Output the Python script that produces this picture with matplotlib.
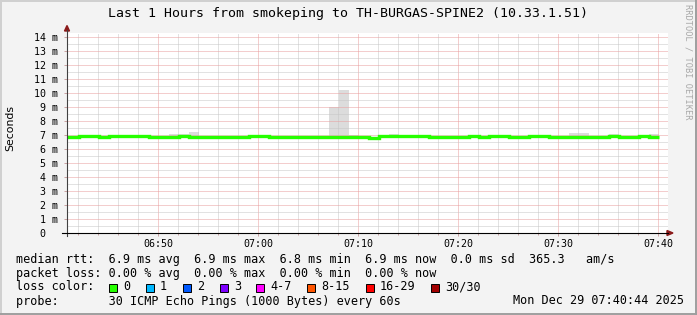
import numpy as np
import matplotlib
matplotlib.use('Agg')
import matplotlib.pyplot as plt
from matplotlib.patches import Rectangle, Polygon
from matplotlib.lines import Line2D
from matplotlib.ticker import FixedLocator, MultipleLocator

# ── Data ──────────────────────────────────────────────────────────────────
# one probe round per minute, first round ends 06:40:06
t_first = 0.1                      # minutes after 06:40
median_ms = [6.85, 6.85, 6.92, 6.92, 6.85, 6.92, 6.92, 6.92, 6.92, 6.85,
             6.85, 6.85, 6.92, 6.85, 6.85, 6.85, 6.85, 6.85, 6.85, 6.92,
             6.92, 6.85, 6.85, 6.85, 6.85, 6.85, 6.85, 6.88, 6.88, 6.88,
             6.85, 6.80, 6.92, 6.92, 6.92, 6.92, 6.92, 6.85, 6.85, 6.85,
             6.85, 6.92, 6.85, 6.92, 6.92, 6.85, 6.85, 6.92, 6.92, 6.85,
             6.88, 6.85, 6.85, 6.88, 6.88, 6.92, 6.85, 6.85, 6.92, 6.85]
smoke_lo = [6.79, 6.79, 6.80, 6.80, 6.79, 6.80, 6.80, 6.80, 6.80, 6.79,
            6.79, 6.79, 6.86, 6.79, 6.79, 6.79, 6.79, 6.79, 6.79, 6.86,
            6.86, 6.79, 6.79, 6.79, 6.79, 6.79, 6.79, 6.74, 6.74, 6.74,
            6.79, 6.74, 6.86, 6.86, 6.86, 6.86, 6.86, 6.79, 6.79, 6.79,
            6.79, 6.86, 6.79, 6.86, 6.86, 6.79, 6.79, 6.86, 6.86, 6.79,
            6.82, 6.79, 6.79, 6.82, 6.82, 6.86, 6.79, 6.79, 6.86, 6.79]
smoke_hi = [6.90, 6.90, 6.97, 6.97, 6.90, 6.97, 6.97, 6.97, 6.97, 6.90,
            6.90, 7.10, 7.10, 7.20, 6.90, 6.90, 6.90, 6.90, 6.90, 6.97,
            6.97, 6.90, 6.90, 6.90, 6.90, 6.90, 6.90, 9.00, 10.20, 7.00,
            6.90, 6.85, 6.97, 7.07, 6.97, 6.97, 6.97, 6.90, 6.90, 6.90,
            6.90, 6.97, 6.90, 6.97, 6.97, 6.90, 6.90, 6.97, 6.97, 6.90,
            6.93, 7.15, 7.15, 6.93, 6.93, 7.08, 6.90, 6.90, 6.97, 7.07]

x_ticks = [10, 20, 30, 40, 50, 60]
x_labels = ['06:50', '07:00', '07:10', '07:20', '07:30', '07:40']
y_ticks = list(range(15))
y_labels = ['0  '] + [f'{v} m' for v in range(1, 15)]

loss_labels = ['0', '1', '2', '3', '4-7', '8-15', '16-29', '30/30']
loss_colors = ['#26ff00', '#00b8ff', '#0059ff', '#7e00ff',
               '#ff00ff', '#ff5500', '#ff0000', '#a10000']

title = 'Last 1 Hours from smokeping to TH-BURGAS-SPINE2 (10.33.1.51)'
legend_rows = [
    'median rtt:  6.9 ms avg  6.9 ms max  6.8 ms min  6.9 ms now  0.0 ms sd  365.3   am/s',
    'packet loss: 0.00 % avg  0.00 % max  0.00 % min  0.00 % now',
    'loss color:',
    'probe:       30 ICMP Echo Pings (1000 Bytes) every 60s',
]
stamp = 'Mon Dec 29 07:40:44 2025'

# ── Figure (pixel layout like rrdtool) ────────────────────────────────────
W, H = 697, 315
MONO = 'DejaVu Sans Mono'


def fx(px):
    return px / W


def fy(py):
    return 1 - py / H


fig = plt.figure(figsize=(W / 100, H / 100), dpi=100, facecolor='#f3f3f3')

# 3d-ish frame
fig.add_artist(Line2D([fx(0.5), fx(0.5)], [fy(0), fy(H)], color='#d0d0d0', lw=1.4))
fig.add_artist(Line2D([fx(0), fx(W)], [fy(0.5), fy(0.5)], color='#d0d0d0', lw=1.4))
fig.add_artist(Line2D([fx(W - 1), fx(W - 1)], [fy(0), fy(H)], color='#9e9e9e', lw=1.4))
fig.add_artist(Line2D([fx(0), fx(W)], [fy(H - 1), fy(H - 1)], color='#9e9e9e', lw=1.4))

ax = fig.add_axes([fx(67), fy(233), fx(668) - fx(67), fy(33) - fy(233)])
ax.set_facecolor('white')

edges = t_first + np.arange(len(median_ms) + 1)
ax.stairs(smoke_hi, edges, baseline=smoke_lo, fill=True,
          color='#dcdcdc', linewidth=0, zorder=1)
ax.stairs(median_ms, edges, baseline=None, color='#26ff00',
          linewidth=2.4, zorder=3)

ax.set_xlim(0.9, 61.0)
ax.set_ylim(0, 200 / 14)

ax.xaxis.set_major_locator(FixedLocator(x_ticks))
ax.xaxis.set_minor_locator(MultipleLocator(2))
ax.set_xticklabels(x_labels)
ax.yaxis.set_major_locator(FixedLocator(y_ticks))
ax.yaxis.set_minor_locator(MultipleLocator(0.5))
ax.set_yticklabels(y_labels)

ax.set_axisbelow(False)
ax.grid(which='major', color='#e99d9d', linestyle=(0, (1, 1)), linewidth=0.72)
ax.grid(which='minor', color='#c6c6c6', linestyle=(0, (1, 1)), linewidth=0.72)

ax.tick_params(axis='both', which='both', direction='out', labelsize=7.2,
               color='#c8a0a0', width=0.7)
ax.tick_params(axis='x', which='major', length=2, pad=2.6)
ax.tick_params(axis='x', which='minor', length=1.5)
ax.tick_params(axis='y', which='major', length=2.5, pad=3.8)
ax.tick_params(axis='y', which='minor', length=0)
for lab in ax.get_xticklabels() + ax.get_yticklabels():
    lab.set_family(MONO)
for s in ax.spines.values():
    s.set_visible(False)

# axes with arrows
fig.add_artist(Line2D([fx(67), fx(67)], [fy(236), fy(30)], color='#404040', lw=0.8))
fig.add_artist(Line2D([fx(62), fx(668)], [fy(233), fy(233)], color='black', lw=0.8))
fig.add_artist(Polygon([(fx(64.5), fy(31)), (fx(69.5), fy(31)), (fx(67), fy(25.5))],
                       closed=True, color='#8b1a1a', transform=fig.transFigure))
fig.add_artist(Polygon([(fx(667), fy(230.5)), (fx(667), fy(235.5)), (fx(673), fy(233))],
                       closed=True, color='#8b1a1a', transform=fig.transFigure))

# texts
fig.text(fx(348), fy(13), title, ha='center', va='center', fontsize=9.5, family=MONO)
fig.text(fx(10), fy(128), 'Seconds', rotation=90, ha='center', va='center',
         fontsize=7.8, family='DejaVu Sans')
fig.text(fx(688), fy(4), 'RRDTOOL / TOBI OETIKER', rotation=270, ha='center',
         va='top', fontsize=6.2, family=MONO, color='#a8a8a8')

for row, y in zip(legend_rows, [259, 273, 287, 301]):
    fig.text(fx(16), fy(y), row, ha='left', va='center', fontsize=8.5, family=MONO)
fig.text(fx(513), fy(301), stamp, ha='left', va='center', fontsize=8.5, family=MONO)

box_left = [109, 146, 183, 220, 256, 307, 366, 431]
for bx, lab, col in zip(box_left, loss_labels, loss_colors):
    fig.add_artist(Rectangle((fx(bx), fy(291.5)), 8 / W, 8 / H, facecolor=col,
                             edgecolor='black', lw=0.7, transform=fig.transFigure))
    fig.text(fx(bx + 14), fy(287), lab, ha='left', va='center', fontsize=8.5, family=MONO)

fig.savefig('out.png', dpi=100, facecolor=fig.get_facecolor())
